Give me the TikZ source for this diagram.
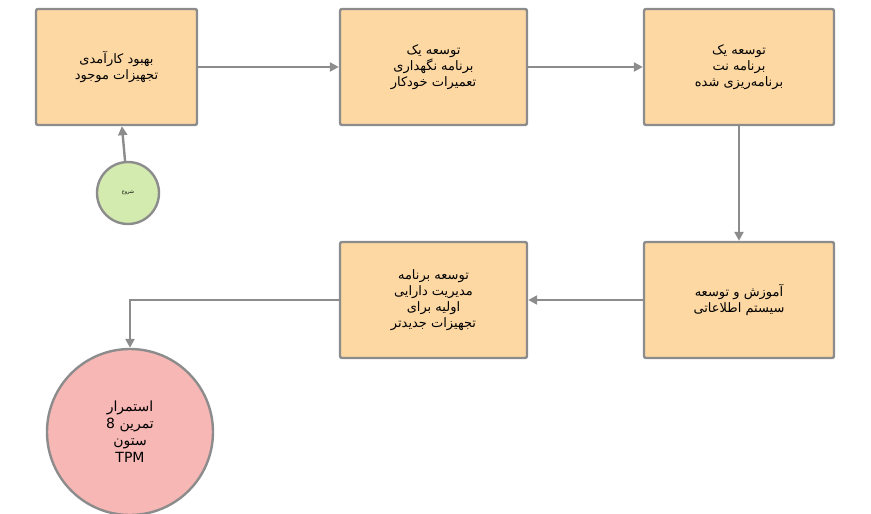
\documentclass[tikz,border=0pt]{standalone}
\usepackage{fontspec}
\setmainfont{DejaVu Sans}
\newfontfamily\arabicfont[Script=Arabic]{DejaVu Sans}
\TeXXeTstate=1
\newcommand{\rl}[1]{\beginR #1\endR}
\usetikzlibrary{arrows.meta}
\definecolor{boxfill}{HTML}{FDD8A3}
\definecolor{edge}{HTML}{8C8C8C}
\definecolor{gfill}{HTML}{D3EBAF}
\definecolor{rfill}{HTML}{F7B7B5}
\tikzset{
  stepbox/.style={draw=edge, line width=2.4pt, fill=boxfill, rounded corners=2pt, minimum height=116pt, align=center, font=\arabicfont\fontsize{13}{16}\selectfont, inner sep=2pt},
  conn/.style={draw=edge, line width=2.4pt, -{Triangle[length=9pt,width=9pt]}},
}
\begin{document}
\begin{tikzpicture}[x=1pt,y=-1pt]
\useasboundingbox (0,0) rectangle (871,514);
\node[stepbox, minimum width=161pt] (b1) at (116.5,67) {\rl{بهبود کارآمدی}\\\rl{تجهیزات موجود}};
\node[stepbox, minimum width=187pt] (b2) at (433.5,67) {\rl{توسعه یک}\\\rl{برنامه نگهداری}\\\rl{تعمیرات خودکار}};
\node[stepbox, minimum width=190pt] (b3) at (739,67) {\rl{توسعه یک}\\\rl{برنامه نت}\\\rl{برنامه‌ریزی شده}};
\node[stepbox, minimum width=190pt] (b4) at (739,300) {\rl{آموزش و توسعه}\\\rl{سیستم اطلاعاتی}};
\node[stepbox, minimum width=187pt] (b5) at (433.5,300) {\rl{توسعه برنامه}\\\rl{مدیریت دارایی}\\\rl{اولیه برای}\\\rl{تجهیزات جدیدتر}};
\node[circle, draw=edge, line width=2.4pt, fill=gfill, minimum size=62pt, inner sep=0pt, font=\arabicfont\fontsize{5}{6}\selectfont] (g) at (128,193) {\rl{شروع}};
\node[circle, draw=edge, line width=2.4pt, fill=rfill, minimum size=166pt, inner sep=0pt, align=center, font=\arabicfont\fontsize{14}{17}\selectfont] (r) at (130,432) {\rl{استمرار}\\\rl{تمرین 8}\\\rl{ستون}\\TPM};
\draw[conn] (g) -- (b1);
\draw[conn] (b1) -- (b2);
\draw[conn] (b2) -- (b3);
\draw[conn] (b3) -- (b4);
\draw[conn] (b4) -- (b5);
\draw[conn] (b5.west) -| (r.north);
\end{tikzpicture}
\end{document}
